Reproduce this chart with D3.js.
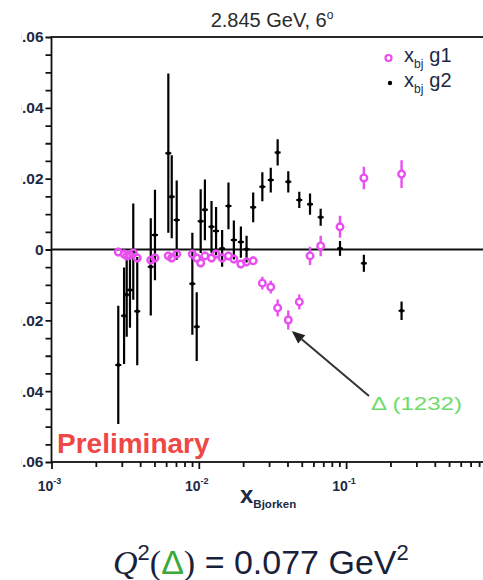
<!DOCTYPE html>
<html>
<head>
<meta charset="utf-8">
<script src="https://cdn.jsdelivr.net/npm/d3@7"></script>
<style>
  body { margin: 0; background: #fff; }
  svg { display: block; }
</style>
</head>
<body>
<script>
// x_Bjorken bins shared by both asymmetry series
const xBins = [0.00284, 0.00311, 0.00324, 0.00341, 0.00359, 0.00382, 0.00472, 0.00504,
  0.00621, 0.00655, 0.00708, 0.00904, 0.00968, 0.0103, 0.0110, 0.0122, 0.0131, 0.0144,
  0.0159, 0.0173, 0.0193, 0.0211, 0.0234, 0.0270, 0.0308, 0.0343, 0.0405, 0.0481,
  0.0569, 0.0672, 0.0909, 0.132, 0.238];

// x_bj g2 with statistical errors
const g2Values = [-0.0326, -0.0187, -0.0128, -0.0114, -0.0006, -0.0174, -0.0049, 0.0041,
  0.0272, 0.0149, 0.0083, -0.0097, -0.0218, 0.0080, 0.0112, 0.0064, 0.0052, 0.0003,
  0.0123, 0.0027, 0.0021, 0.0001, 0.0119, 0.0177, 0.0196, 0.0274, 0.0191, 0.0140,
  0.0128, 0.0091, 0.0003, -0.0039, -0.0173];
const g2Errors = [0.0167, 0.0136, 0.0118, 0.0107, 0.0136, 0.0153, 0.0137, 0.0128,
  0.0225, 0.0117, 0.0112, 0.0144, 0.0097, 0.0090, 0.0086, 0.0073, 0.0068, 0.0052,
  0.0066, 0.0055, 0.0044, 0.0038, 0.0042, 0.0041, 0.0035, 0.0037, 0.0030, 0.0023,
  0.0030, 0.0024, 0.0021, 0.0024, 0.0026];

// x_bj g1 with statistical errors
const g1Values = [-0.0007, -0.0013, -0.0018, -0.0016, -0.0010, -0.0024, -0.0030, -0.0024,
  -0.0018, -0.0024, -0.0013, -0.0013, -0.0024, -0.0038, -0.0018, -0.0024, -0.0013, -0.0024,
  -0.0018, -0.0027, -0.0041, -0.0035, -0.0032, -0.0095, -0.0106, -0.0165, -0.0199, -0.0148,
  -0.0018, 0.0010, 0.0064, 0.0202, 0.0213];
const g1Errors = [0.0012, 0.0012, 0.0012, 0.0012, 0.0012, 0.0012, 0.0012, 0.0012,
  0.0012, 0.0012, 0.0012, 0.0012, 0.0012, 0.0012, 0.0012, 0.0012, 0.0012, 0.0012,
  0.0012, 0.0012, 0.0012, 0.0012, 0.0012, 0.0018, 0.0018, 0.0024, 0.0027, 0.0021,
  0.0026, 0.0029, 0.0031, 0.0032, 0.0039];

// axis ticks
const yMajorTicks = [-0.06, -0.04, -0.02, 0, 0.02, 0.04, 0.06];
const yMinorStep = 0.005;
const xDecades = [-3, -2, -1];
const xTickExponents = ["-3", "-2", "-1"];

// the Delta(1232) resonance point that the arrow marks
const deltaX = 0.0405, deltaY = -0.0199;

const W = 483, H = 580;
const MAGENTA = "#e94ef0";
const INK = "#1c2a44";

const svg = d3.select("body").append("svg")
  .attr("width", W).attr("height", H)
  .style("font-family", "'Liberation Sans', Arial, sans-serif");

const x = d3.scaleLog().domain([1e-3, 1]).range([51.5, 493.4]);
const y = d3.scaleLinear().domain([-0.06, 0.06]).range([462, 37]);

const defs = svg.append("defs");
defs.append("clipPath").attr("id", "plotClip").append("rect")
  .attr("x", x(1e-3)).attr("y", y(0.06))
  .attr("width", x(1) - x(1e-3)).attr("height", y(-0.06) - y(0.06));
defs.append("clipPath").attr("id", "labelClip").append("rect")
  .attr("x", 21.5).attr("y", 0).attr("width", W).attr("height", H);

// title
svg.append("text")
  .attr("x", 272).attr("y", 27)
  .attr("text-anchor", "middle")
  .attr("font-size", 20).attr("fill", "#2a2a2a")
  .text("2.845 GeV, 6")
  .append("tspan").attr("font-size", 12).attr("dy", -8).text("o");

// frame
svg.append("rect")
  .attr("x", x(1e-3)).attr("y", y(0.06))
  .attr("width", x(1) - x(1e-3)).attr("height", y(-0.06) - y(0.06))
  .attr("fill", "none").attr("stroke", "#111").attr("stroke-width", 1.8);

// y axis (labels clipped at the left margin of the page)
const yTicks = d3.range(-12, 13).map(i => +(i * yMinorStep).toFixed(3));
const isMajorY = d => yMajorTicks.some(t => Math.abs(t - d) < 1e-9);
const yFmt = d => Math.abs(d) < 1e-9 ? "0" : d3.format(".2f")(d);
const yAxisWrap = svg.append("g").attr("clip-path", "url(#labelClip)");
const yAxisG = yAxisWrap.append("g")
  .attr("transform", `translate(${x(1e-3)},0)`)
  .call(d3.axisLeft(y).tickValues(yTicks).tickSize(6).tickPadding(2)
    .tickFormat(d => isMajorY(d) ? yFmt(d) : ""));
yAxisG.select(".domain").remove();
yAxisG.selectAll(".tick line").attr("stroke", "#111").attr("stroke-width", 1.8);
yAxisG.selectAll(".tick text")
  .attr("font-size", 15.5).attr("font-weight", "bold").attr("fill", INK)
  .attr("font-family", "'Liberation Sans', Arial, sans-serif");

// x axis (log, with minor ticks)
const xMinor = [], xMajor = [];
xDecades.forEach(e => {
  for (let m = 1; m <= 9; m++) {
    const v = m * Math.pow(10, e);
    (m === 1 ? xMajor : xMinor).push(v);
  }
});
xMajor.push(1);
const xAxisMinor = svg.append("g")
  .attr("transform", `translate(0,${y(-0.06)})`)
  .call(d3.axisBottom(x).tickValues(xMinor).tickSize(5).tickFormat(""));
const xAxisMajor = svg.append("g")
  .attr("transform", `translate(0,${y(-0.06)})`)
  .call(d3.axisBottom(x).tickValues(xMajor).tickSize(7).tickFormat(""));
[xAxisMinor, xAxisMajor].forEach(g => {
  g.select(".domain").remove();
  g.selectAll(".tick line").attr("stroke", "#111").attr("stroke-width", 1.8);
});

// decade labels 10^n
xDecades.forEach((e, i) => {
  const t = svg.append("text")
    .attr("x", x(Math.pow(10, e)) - 2).attr("y", 491)
    .attr("text-anchor", "middle")
    .attr("font-size", 14).attr("font-weight", "bold").attr("fill", INK)
    .text("10");
  t.append("tspan").attr("font-size", 9).attr("dy", -7).text(xTickExponents[i]);
});

// x axis title
const xt = svg.append("text")
  .attr("x", 240).attr("y", 503)
  .attr("font-size", 24).attr("font-weight", "bold").attr("fill", INK)
  .text("x");
xt.append("tspan").attr("font-size", 11.5).attr("dy", 5).text("Bjorken");

// zero line
svg.append("line")
  .attr("x1", x(1e-3)).attr("x2", x(1))
  .attr("y1", y(0)).attr("y2", y(0))
  .attr("stroke", "#111").attr("stroke-width", 1.8);

const plot = svg.append("g").attr("clip-path", "url(#plotClip)");

// g2: black points with error bars
xBins.forEach((xb, i) => {
  const cx = x(xb), v = g2Values[i], e = g2Errors[i];
  plot.append("line")
    .attr("x1", cx).attr("x2", cx)
    .attr("y1", y(v - e)).attr("y2", y(v + e))
    .attr("stroke", "#000").attr("stroke-width", 2.2);
  plot.append("line")
    .attr("x1", cx - 3).attr("x2", cx + 3)
    .attr("y1", y(v)).attr("y2", y(v))
    .attr("stroke", "#000").attr("stroke-width", 2);
  plot.append("circle")
    .attr("cx", cx).attr("cy", y(v)).attr("r", 2).attr("fill", "#000");
});

// g1: magenta open circles with error bars
const R = 3.3;
xBins.forEach((xb, i) => {
  const cx = x(xb), v = g1Values[i], e = g1Errors[i];
  const cy = y(v), top = y(v + e), bot = y(v - e);
  if (cy - top > R) {
    plot.append("line").attr("x1", cx).attr("x2", cx)
      .attr("y1", top).attr("y2", cy - R)
      .attr("stroke", MAGENTA).attr("stroke-width", 2.4);
    plot.append("line").attr("x1", cx).attr("x2", cx)
      .attr("y1", cy + R).attr("y2", bot)
      .attr("stroke", MAGENTA).attr("stroke-width", 2.4);
  }
  plot.append("circle")
    .attr("cx", cx).attr("cy", cy).attr("r", R)
    .attr("fill", "none").attr("stroke", MAGENTA).attr("stroke-width", 2.4);
});

// legend
svg.append("circle").attr("cx", 388.5).attr("cy", 58).attr("r", 3)
  .attr("fill", "none").attr("stroke", MAGENTA).attr("stroke-width", 2.2);
svg.append("circle").attr("cx", 390).attr("cy", 83).attr("r", 2.2).attr("fill", "#000");
[["g1", 62], ["g2", 87]].forEach(([name, by]) => {
  const t = svg.append("text").attr("x", 404).attr("y", by)
    .attr("font-size", 20).attr("fill", INK).text("x");
  t.append("tspan").attr("font-size", 12).attr("dy", 6).text("bj");
  t.append("tspan").attr("font-size", 20).attr("dy", -6).attr("dx", 6).text(name);
});

// Preliminary stamp
svg.append("text")
  .attr("x", 57).attr("y", 453)
  .attr("font-size", 28).attr("font-weight", "bold").attr("fill", "#ef4646")
  .text("Preliminary");

// arrow pointing at the Delta(1232) region
const tip = [x(deltaX) + 3.5, y(deltaY) + 11];
const tail = [369, 396];
const ang = Math.atan2(tip[1] - tail[1], tip[0] - tail[0]);
const headLen = 13, headW = 5.5;
const base = [tip[0] - headLen * Math.cos(ang), tip[1] - headLen * Math.sin(ang)];
svg.append("line")
  .attr("x1", tail[0]).attr("y1", tail[1])
  .attr("x2", base[0]).attr("y2", base[1])
  .attr("stroke", "#333").attr("stroke-width", 2);
svg.append("polygon")
  .attr("points", [
    tip,
    [base[0] + headW * Math.sin(ang), base[1] - headW * Math.cos(ang)],
    [base[0] - headW * Math.sin(ang), base[1] + headW * Math.cos(ang)]
  ].map(p => p.join(",")).join(" "))
  .attr("fill", "#222");

svg.append("text")
  .attr("x", 371).attr("y", 410)
  .attr("font-size", 18).attr("fill", "#6fdc6a")
  .attr("textLength", 91).attr("lengthAdjust", "spacingAndGlyphs")
  .text("\u0394 (1232)");

// Q^2 of the Delta
const q = svg.append("text")
  .attr("x", 113).attr("y", 574)
  .attr("font-size", 34).attr("fill", "#1a1f3a");
q.append("tspan").attr("font-family", "'Liberation Serif', serif").attr("font-style", "italic").text("Q");
q.append("tspan").attr("font-size", 22).attr("dy", -14).attr("font-family", "'Liberation Sans', sans-serif").text("2");
q.append("tspan").attr("dy", 14).attr("font-family", "'Liberation Serif', serif").text("(");
q.append("tspan").attr("fill", "#3aa83a").text("\u0394");
q.append("tspan").attr("font-family", "'Liberation Serif', serif").text(")");
q.append("tspan").text(" = 0.077 GeV");
q.append("tspan").attr("font-size", 22).attr("dy", -14).text("2");
</script>
</body>
</html>
